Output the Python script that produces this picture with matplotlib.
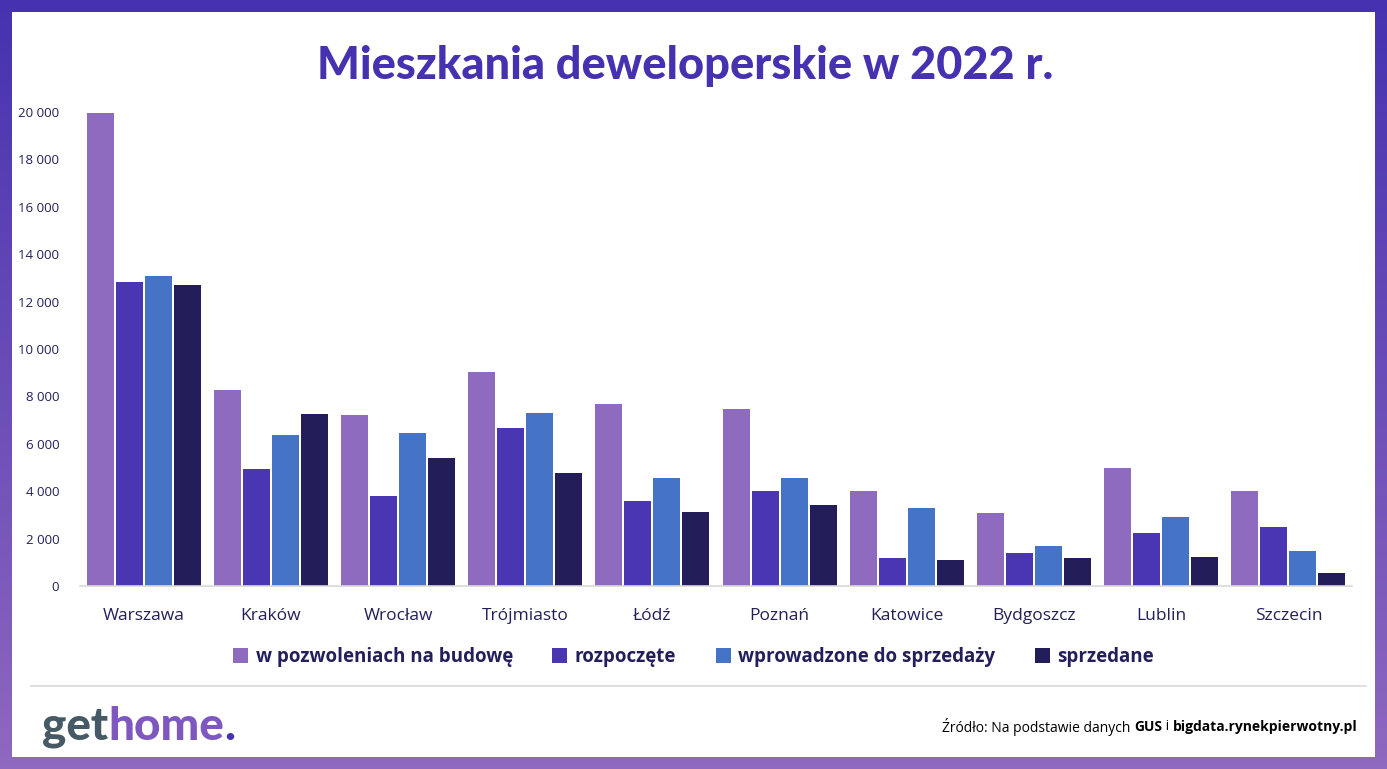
import numpy as np
import matplotlib
matplotlib.use('Agg')
import matplotlib.pyplot as plt
from matplotlib.patches import Rectangle, Patch

# dane
miasta = ['Warszawa', 'Kraków', 'Wrocław', 'Trójmiasto', 'Łódź',
          'Poznań', 'Katowice', 'Bydgoszcz', 'Lublin', 'Szczecin']
pozwolenia = [19950, 8270, 7215, 9030, 7680, 7470, 4010, 3080, 4980, 4010]
rozpoczete = [12830, 4940, 3800, 6670, 3590, 4010, 1180, 1390, 2240, 2490]
wprowadzone = [13080, 6370, 6455, 7300, 4560, 4560, 3290, 1690, 2910, 1480]
sprzedane = [12700, 7260, 5400, 4770, 3120, 3420, 1100, 1180, 1220, 550]
serie_nazwy = ['w pozwoleniach na budowę', 'rozpoczęte',
               'wprowadzone do sprzedaży', 'sprzedane']
yticks = [0, 2000, 4000, 6000, 8000, 10000, 12000, 14000, 16000, 18000, 20000]

kolory = ['#8F6BC0', '#4A36B2', '#4574C6', '#231E5A']
granat = '#231F5A'
fiolet = '#4632B0'

plt.rcParams['font.family'] = ['Lato', 'DejaVu Sans']
szeroki = ['Open Sans', 'DejaVu Sans']

W, H = 1387, 769
fig = plt.figure(figsize=(W / 100, H / 100), dpi=100)

# ramka z gradientem
bg = fig.add_axes([0, 0, 1, 1])
top = np.array([70, 50, 176]) / 255
bot = np.array([143, 104, 191]) / 255
t = np.linspace(0, 1, 256)[:, None]
grad = top[None, :] * (1 - t) + bot[None, :] * t
bg.imshow(grad[:, None, :], aspect='auto', extent=[0, 1, 0, 1])
bg.add_patch(Rectangle((12 / W, 12 / H), 1 - 24 / W, 1 - 24 / H,
                       facecolor='white', edgecolor='none'))
bg.plot([31 / W, 1366 / W], [1 - 686 / H] * 2, color='#D9D9D9', lw=1.2)
bg.set_xlim(0, 1)
bg.set_ylim(0, 1)
bg.axis('off')

# wykres
ax = fig.add_axes([80 / W, 1 - 586 / H, 1272 / W, 474 / H])
x = np.arange(len(miasta))
w = 0.212
step = 0.228
for i, (vals, c) in enumerate(zip([pozwolenia, rozpoczete, wprowadzone, sprzedane], kolory)):
    ax.bar(x + (i - 1.5) * step, vals, width=w, color=c)

ax.set_xlim(-0.5, len(miasta) - 0.5)
ax.set_ylim(0, 20000)
ax.set_yticks(yticks)
ax.set_yticklabels(['{:,}'.format(v).replace(',', ' ') for v in yticks],
                   fontsize=9.5, color=granat, family=szeroki)
ax.set_xticks(x)
ax.set_xticklabels(miasta, fontsize=12.5, color=granat, family=szeroki)
ax.tick_params(axis='both', length=0)
ax.tick_params(axis='y', pad=15)
ax.tick_params(axis='x', pad=16)
for s in ['top', 'right', 'left']:
    ax.spines[s].set_visible(False)
ax.spines['bottom'].set_color('#D9D9D9')
ax.spines['bottom'].set_linewidth(1.2)

# tytul
fig.text(0.494, 1 - 66 / H, 'Mieszkania deweloperskie w 2022 r.', ha='center', va='center',
         fontsize=32.5, fontweight='black', color=fiolet)

# legenda
uchwyty = [Patch(facecolor=c, edgecolor='none') for c in kolory]
fig.legend(uchwyty, serie_nazwy, loc='center', bbox_to_anchor=(0.5, 1 - 657 / H),
           ncol=4, frameon=False, handlelength=0.8, handleheight=0.8,
           handletextpad=0.4, columnspacing=2.1,
           prop={'size': 13.5, 'weight': 'bold', 'family': szeroki},
           labelcolor=granat)

# logo
ly = 1 - 727 / H
r = fig.canvas.get_renderer()
xpos = 42
for txt, kol in [('get', '#465A66'), ('home', '#7E58C0'), ('.', fiolet)]:
    tt = fig.text(xpos / W, ly, txt, fontsize=33, fontweight='black', color=kol, va='center')
    xpos = tt.get_window_extent(r).x1

# zrodlo (od prawej do lewej)
xpos = 1358
for txt, waga in [('bigdata.rynekpierwotny.pl', 'bold'), (' i ', 'normal'),
                  ('GUS', 'bold'), ('Źródło: Na podstawie danych ', 'normal')]:
    tt = fig.text(xpos / W, 1 - 727 / H, txt, ha='right', va='center',
                  fontsize=10, fontweight=waga, color='black', family=szeroki)
    xpos = tt.get_window_extent(r).x0

fig.savefig('out.png', dpi=100)
